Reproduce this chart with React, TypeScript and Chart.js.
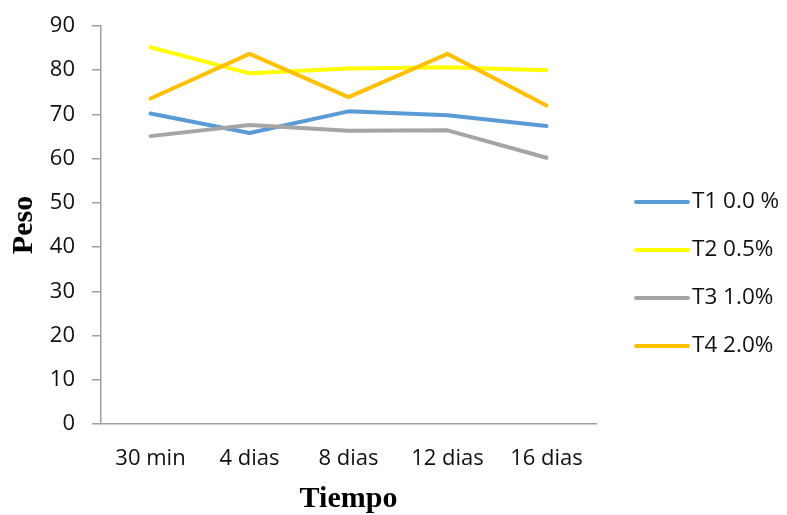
import React, { useEffect, useRef } from "react";
import { Chart, registerables } from "chart.js";

Chart.register(...registerables);

// Sampling times
const categories = ["30 min", "4 dias", "8 dias", "12 dias", "16 dias"];

// Weight per treatment
const t1Values = [70.2, 65.8, 70.7, 69.8, 67.4];
const t2Values = [85.2, 79.3, 80.4, 80.7, 80.0];
const t3Values = [65.1, 67.6, 66.3, 66.4, 60.2];
const t4Values = [73.6, 83.7, 73.9, 83.7, 72.0];

const seriesLabels = ["T1 0.0 %", "T2 0.5%", "T3 1.0%", "T4 2.0%"];
const seriesColors = ["#5B9BD5", "#FFFF00", "#A5A5A5", "#FFC000"];

const yTickMin = 0;
const yTickMax = 90;
const yTickStep = 10;

const TEXT_FONT = "'Open Sans', 'Noto Sans', sans-serif";
const TITLE_FONT = "'Liberation Serif', 'DejaVu Serif', serif";
const AXIS_COLOR = "#a0a0a0";

// Legend drawn at the right, one line sample + label per series
const sideLegend = {
  id: "sideLegend",
  afterDraw(chart: any) {
    const ctx = chart.ctx;
    const startY = 202;
    const step = 48;
    ctx.save();
    chart.data.datasets.forEach((ds: any, i: number) => {
      const y = startY + i * step;
      ctx.beginPath();
      ctx.strokeStyle = ds.borderColor;
      ctx.lineWidth = 4;
      ctx.lineCap = "round";
      ctx.moveTo(636, y);
      ctx.lineTo(688, y);
      ctx.stroke();
      ctx.fillStyle = "#111";
      ctx.font = `22.5px ${TEXT_FONT}`;
      ctx.textAlign = "left";
      ctx.textBaseline = "middle";
      ctx.fillText(ds.label, 692, y);
    });
    ctx.restore();
  },
};

export default function App() {
  const canvasRef = useRef<HTMLCanvasElement | null>(null);

  useEffect(() => {
    if (!canvasRef.current) return;
    const values = [t1Values, t2Values, t3Values, t4Values];
    const chart = new Chart(canvasRef.current, {
      type: "line",
      data: {
        labels: categories,
        datasets: values.map((v, i) => ({
          label: seriesLabels[i],
          data: v,
          borderColor: seriesColors[i],
          backgroundColor: seriesColors[i],
          borderWidth: 4,
          pointRadius: 0,
          pointHoverRadius: 0,
          tension: 0,
          fill: false,
          borderJoinStyle: "round" as const,
          borderCapStyle: "round" as const,
          order: values.length - i,
        })),
      },
      options: {
        responsive: false,
        animation: false,
        devicePixelRatio: 1,
        layout: { padding: { left: 0, right: 191, top: 26, bottom: 0 } },
        plugins: {
          legend: { display: false },
          tooltip: { enabled: false },
        },
        scales: {
          x: {
            offset: true,
            grid: { display: false, drawTicks: false },
            border: { display: true, color: AXIS_COLOR, width: 1.5 },
            ticks: {
              color: "#111",
              padding: 22,
              font: { family: TEXT_FONT, size: 22 },
              maxRotation: 0,
              autoSkip: false,
            },
            title: {
              display: true,
              text: "Tiempo",
              color: "#000",
              font: { family: TITLE_FONT, size: 30, weight: "bold" },
              padding: { top: 0, bottom: -2 },
            },
            afterFit: (scale: any) => {
              scale.height = 91;
            },
          },
          y: {
            min: yTickMin,
            max: yTickMax,
            grid: {
              drawOnChartArea: false,
              drawTicks: true,
              tickLength: 9,
              color: AXIS_COLOR,
              lineWidth: 1.5,
            },
            border: { display: true, color: AXIS_COLOR, width: 1.5 },
            ticks: {
              stepSize: yTickStep,
              color: "#111",
              padding: 17,
              font: { family: TEXT_FONT, size: 22 },
            },
            title: {
              display: true,
              text: "Peso",
              color: "#000",
              font: { family: TITLE_FONT, size: 30, weight: "bold" },
              padding: { top: 6, bottom: 0 },
            },
            afterFit: (scale: any) => {
              scale.width = 101;
              // top label fits inside the layout padding
              scale.paddingTop = 0;
            },
          },
        },
      },
      plugins: [sideLegend],
    });
    return () => chart.destroy();
  }, []);

  return (
    <div style={{ position: "absolute", left: 0, top: 0, width: 787, height: 515, background: "#fff" }}>
      <canvas ref={canvasRef} width={787} height={515} style={{ width: 787, height: 515 }} />
    </div>
  );
}
